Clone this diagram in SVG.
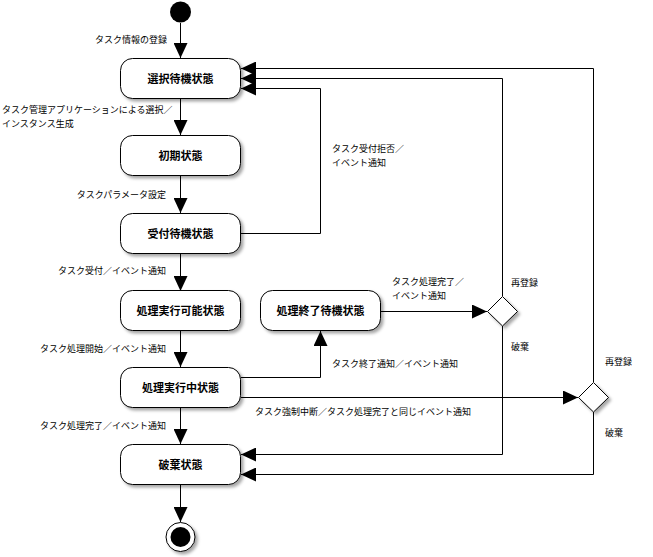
<svg xmlns="http://www.w3.org/2000/svg" width="653" height="557" viewBox="0 0 653 557">
<defs>
<filter id="sh" x="-20%" y="-20%" width="150%" height="160%">
<feDropShadow dx="2.5" dy="2.5" stdDeviation="1.6" flood-color="#000" flood-opacity="0.35"/>
</filter>
<marker id="ah" markerUnits="userSpaceOnUse" markerWidth="15" markerHeight="14" refX="15" refY="7" orient="auto">
<path d="M0,0 L15,7 L0,14 z" fill="#000"/>
</marker>
<style>
.st{fill:#fff;stroke:#000;stroke-width:1;filter:url(#sh)}
.sl{font-family:"Noto Sans CJK JP",sans-serif;font-size:11px;font-weight:bold;text-anchor:middle;fill:#000}
.lb{font-family:"Noto Sans CJK JP",sans-serif;font-size:9px;fill:#000}
.e{text-anchor:end}
.c{fill:none;stroke:#000;stroke-width:1}
.a{marker-end:url(#ah)}
</style>
</defs>
<rect width="653" height="557" fill="#fff"/>
<g id="connectors">
<path class="c a" d="M180.5,23 V58"/>
<path class="c a" d="M180.5,99 V135"/>
<path class="c a" d="M180.5,176 V213"/>
<path class="c a" d="M180.5,254 V291"/>
<path class="c a" d="M180.5,331 V367"/>
<path class="c a" d="M180.5,407 V444"/>
<path class="c a" d="M180.5,484 V522"/>
<path class="c a" d="M241,233.5 H320.5 V88.5 H241"/>
<path class="c a" d="M241,377.5 H320.5 V331"/>
<path class="c a" d="M381,311.5 H487"/>
<path class="c a" d="M241,397.5 H578"/>
<path class="c a" d="M502.5,296 V78.5 H241"/>
<path class="c a" d="M502.5,326 V454.5 H241"/>
<path class="c a" d="M593.5,382 V68.5 H241"/>
<path class="c a" d="M593.5,412 V474.5 H241"/>
<text class="lb e" x="167" y="43">タスク情報の登録</text>
<text class="lb" x="2" y="113">タスク管理アプリケーションによる選択／</text>
<text class="lb" x="2" y="127">インスタンス生成</text>
<text class="lb e" x="166" y="198">タスクパラメータ設定</text>
<text class="lb e" x="166" y="274">タスク受付／イベント通知</text>
<text class="lb e" x="166" y="352">タスク処理開始／イベント通知</text>
<text class="lb e" x="166" y="429">タスク処理完了／イベント通知</text>
<text class="lb" x="332" y="152">タスク受付拒否／</text>
<text class="lb" x="332" y="166">イベント通知</text>
<text class="lb" x="332" y="367">タスク終了通知／イベント通知</text>
<text class="lb" x="392" y="285">タスク処理完了／</text>
<text class="lb" x="392" y="299">イベント通知</text>
<text class="lb" x="255" y="415">タスク強制中断／タスク処理完了と同じイベント通知</text>
<text class="lb" x="511" y="286">再登録</text>
<text class="lb" x="511" y="350">破棄</text>
<text class="lb" x="605" y="365">再登録</text>
<text class="lb" x="605" y="436">破棄</text>
</g>
<g id="start"><circle cx="180.5" cy="12" r="10.5" fill="#000"/></g>
<g id="s1"><rect class="st" x="120.5" y="58.5" width="120" height="40" rx="12"/><text class="sl" x="180.5" y="83">選択待機状態</text></g>
<g id="s2"><rect class="st" x="120.5" y="135.5" width="120" height="40" rx="12"/><text class="sl" x="180.5" y="160">初期状態</text></g>
<g id="s3"><rect class="st" x="120.5" y="213.5" width="120" height="40" rx="12"/><text class="sl" x="180.5" y="238">受付待機状態</text></g>
<g id="s4"><rect class="st" x="120.5" y="290.5" width="120" height="40" rx="12"/><text class="sl" x="180.5" y="315">処理実行可能状態</text></g>
<g id="s5"><rect class="st" x="120.5" y="367.5" width="120" height="40" rx="12"/><text class="sl" x="180.5" y="392">処理実行中状態</text></g>
<g id="s6"><rect class="st" x="120.5" y="444.5" width="120" height="40" rx="12"/><text class="sl" x="180.5" y="469">破棄状態</text></g>
<g id="s7"><rect class="st" x="260.5" y="290.5" width="120" height="40" rx="12"/><text class="sl" x="320.5" y="315">処理終了待機状態</text></g>
<g id="d1"><path class="st" d="M502.5,296.5 L517.5,311.5 L502.5,326 L487.5,311.5 z"/></g>
<g id="d2"><path class="st" d="M593.5,382.5 L608.5,397.5 L593.5,412 L578.5,397.5 z"/></g>
<g id="end"><circle cx="180.5" cy="537" r="14.5" fill="#fff" stroke="#000" filter="url(#sh)"/><circle cx="180.5" cy="537" r="10" fill="#000"/></g>
</svg>
